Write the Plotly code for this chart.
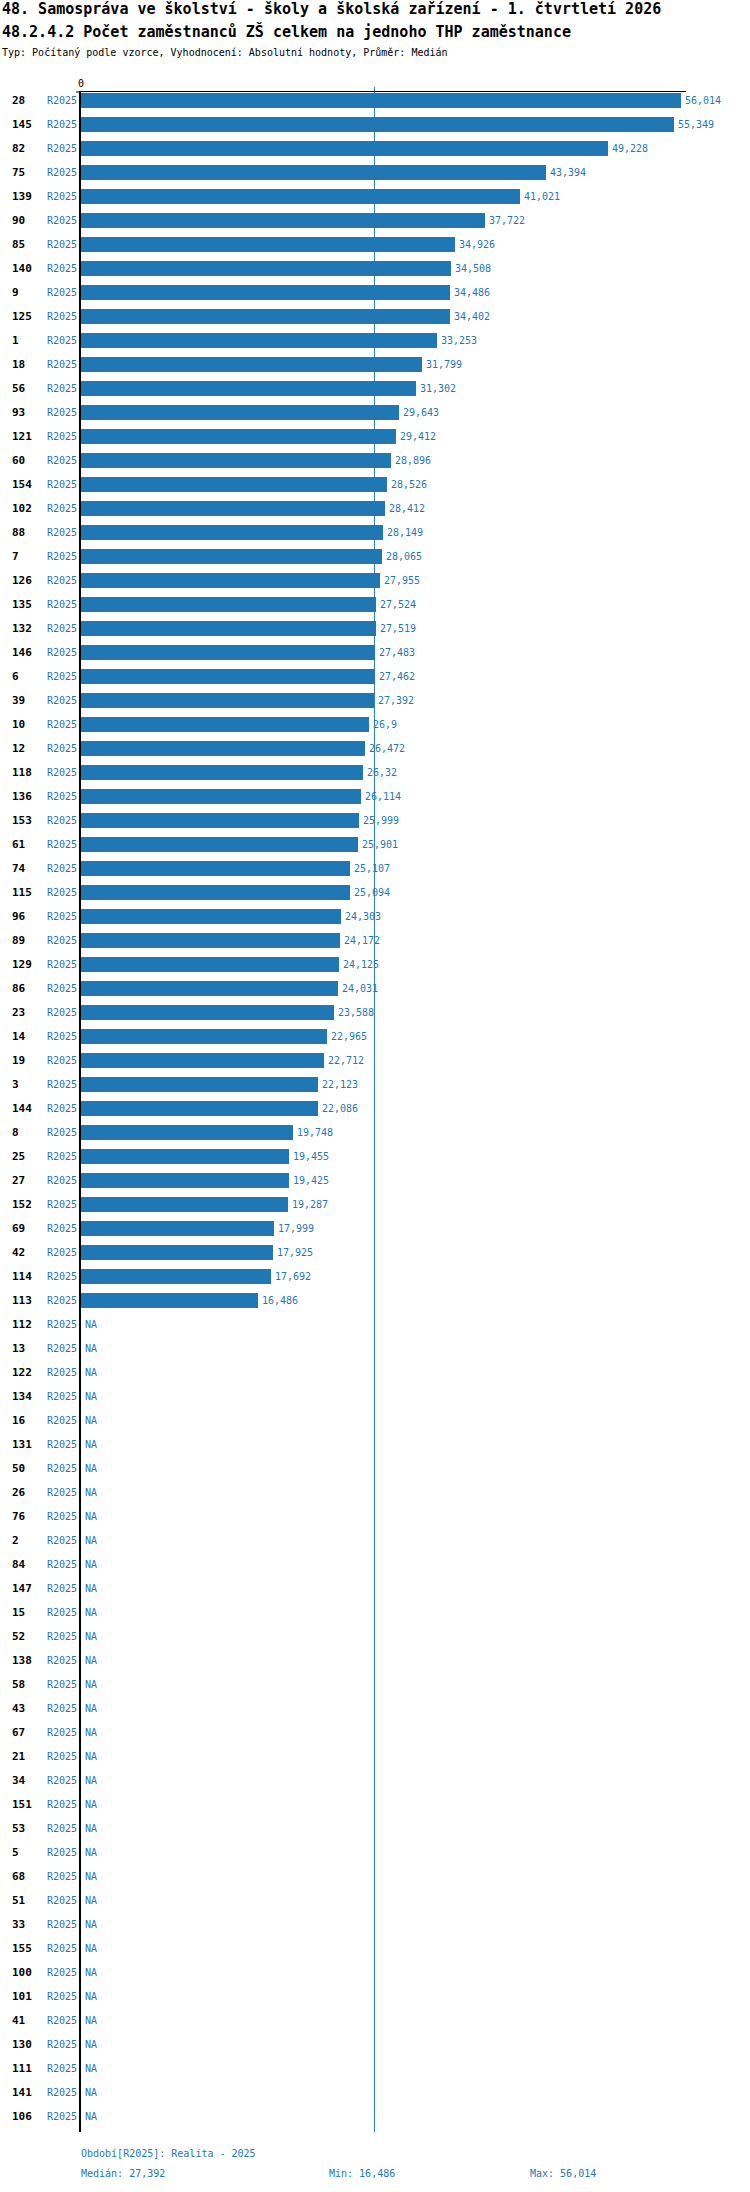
import numpy as np
import plotly.graph_objects as go

# ---------------- data ----------------
categories = ["28", "145", "82", "75", "139", "90", "85", "140", "9", "125", "1", "18", "56", "93",
              "121", "60", "154", "102", "88", "7", "126", "135", "132", "146", "6", "39", "10",
              "12", "118", "136", "153", "61", "74", "115", "96", "89", "129", "86", "23", "14",
              "19", "3", "144", "8", "25", "27", "152", "69", "42", "114", "113",
              "112", "13", "122", "134", "16", "131", "50", "26", "76", "2", "84", "147", "15",
              "52", "138", "58", "43", "67", "21", "34", "151", "53", "5", "68", "51", "33",
              "155", "100", "101", "41", "130", "111", "141", "106"]

values = [56.014, 55.349, 49.228, 43.394, 41.021, 37.722, 34.926, 34.508, 34.486, 34.402,
          33.253, 31.799, 31.302, 29.643, 29.412, 28.896, 28.526, 28.412, 28.149, 28.065,
          27.955, 27.524, 27.519, 27.483, 27.462, 27.392, 26.9, 26.472, 26.32, 26.114,
          25.999, 25.901, 25.107, 25.094, 24.303, 24.172, 24.125, 24.031, 23.588, 22.965,
          22.712, 22.123, 22.086, 19.748, 19.455, 19.425, 19.287, 17.999, 17.925, 17.692,
          16.486] + [None] * 34

period = "R2025"
period_label = "Období[R2025]: Realita - 2025"
x_tick_vals = [0]
x_tick_text = ["0"]

title_1 = "48. Samospráva ve školství - školy a školská zařízení - 1. čtvrtletí 2026"
title_2 = "48.2.4.2 Počet zaměstnanců ZŠ celkem na jednoho THP zaměstnance"
subtitle = "Typ: Počítaný podle vzorce, Vyhodnocení: Absolutní hodnoty, Průměr: Medián"

# ---------------- layout constants ----------------
W, H = 750, 2192
L, R = 81, 64
T_PX, B_PX = 92, 2132
PW = W - L - R
PH = B_PX - T_PX
BLUE = "#1f77b4"
FONT = "DejaVu Sans Mono"


def fmt(v):
    if v is None:
        return "NA"
    s = f"{v:.3f}".rstrip("0").rstrip(".")
    return s.replace(".", ",")


def px_x(p):
    return (p - L) / PW


def px_y(p):
    return (B_PX - p) / PH


valid = [v for v in values if v is not None]
median = float(np.median(valid))
vmin = min(valid)
vmax = max(valid)

n = len(categories)
idx = list(range(n))
row_h = PH / n
y_top = -(100 - T_PX) / row_h
y_bot = y_top + n

fig = go.Figure()
fig.add_trace(go.Bar(
    x=[v if v is not None else None for v in values],
    y=idx,
    orientation="h",
    width=15 / row_h,
    marker=dict(color=BLUE, line=dict(width=0)),
    hoverinfo="skip",
    showlegend=False,
))

annotations = []
for i, (c, v) in enumerate(zip(categories, values)):
    annotations.append(dict(
        x=px_x(10), xref="paper", y=i, yref="y", text=c, showarrow=False,
        xanchor="left", yanchor="middle",
        font=dict(family=FONT, size=11, color="black", weight="bold")))
    annotations.append(dict(
        x=px_x(79), xref="paper", y=i, yref="y", text=period, showarrow=False,
        xanchor="right", yanchor="middle",
        font=dict(family=FONT, size=10, color=BLUE)))
    annotations.append(dict(
        x=v if v is not None else 0, xref="x", y=i, yref="y", text=fmt(v), showarrow=False,
        xanchor="left", yanchor="middle", xshift=2,
        font=dict(family=FONT, size=10, color=BLUE)))

# titles
annotations += [
    dict(x=px_x(0), xref="paper", y=px_y(9), yref="paper", text=title_1, showarrow=False,
         xanchor="left", yanchor="middle",
         font=dict(family=FONT, size=15, color="black", weight="bold")),
    dict(x=px_x(0), xref="paper", y=px_y(31), yref="paper", text=title_2, showarrow=False,
         xanchor="left", yanchor="middle",
         font=dict(family=FONT, size=15, color="black", weight="bold")),
    dict(x=px_x(0), xref="paper", y=px_y(52), yref="paper", text=subtitle, showarrow=False,
         xanchor="left", yanchor="middle",
         font=dict(family=FONT, size=10, color="black")),
]

# footer
annotations += [
    dict(x=px_x(79), xref="paper", y=px_y(2153), yref="paper", text=period_label, showarrow=False,
         xanchor="left", yanchor="middle", font=dict(family=FONT, size=10, color=BLUE)),
    dict(x=px_x(79), xref="paper", y=px_y(2173), yref="paper", text="Medián: " + fmt(median),
         showarrow=False, xanchor="left", yanchor="middle",
         font=dict(family=FONT, size=10, color=BLUE)),
    dict(x=px_x(327), xref="paper", y=px_y(2173), yref="paper", text="Min: " + fmt(vmin),
         showarrow=False, xanchor="left", yanchor="middle",
         font=dict(family=FONT, size=10, color=BLUE)),
    dict(x=px_x(528), xref="paper", y=px_y(2173), yref="paper", text="Max: " + fmt(vmax),
         showarrow=False, xanchor="left", yanchor="middle",
         font=dict(family=FONT, size=10, color=BLUE)),
]

shapes = [
    dict(type="line", xref="x", yref="paper", x0=median, x1=median,
         y0=px_y(87), y1=0, line=dict(color=BLUE, width=1), layer="below"),
    dict(type="line", xref="paper", yref="paper", x0=px_x(76), x1=0,
         y0=1, y1=1, line=dict(color="black", width=1)),
]

x_max = vmax * PW / 600.0

fig.update_layout(
    width=W, height=H,
    margin=dict(l=L, r=R, t=T_PX, b=H - B_PX, pad=0),
    paper_bgcolor="white", plot_bgcolor="white",
    font=dict(family=FONT, size=10, color="black"),
    bargap=0,
    xaxis=dict(range=[0, x_max], side="top", showgrid=False, zeroline=False,
               showline=True, linecolor="black", linewidth=1,
               tickvals=x_tick_vals, ticktext=x_tick_text, ticks="",
               tickfont=dict(family=FONT, size=10, color="black"), fixedrange=True),
    yaxis=dict(range=[y_bot, y_top], showgrid=False, zeroline=False,
               showline=True, linecolor="black", linewidth=2,
               showticklabels=False, ticks="", fixedrange=True),
    annotations=annotations,
    shapes=shapes,
)

fig.write_html("out.html", config={"displayModeBar": False},
               post_script="document.body.style.margin='0';")
